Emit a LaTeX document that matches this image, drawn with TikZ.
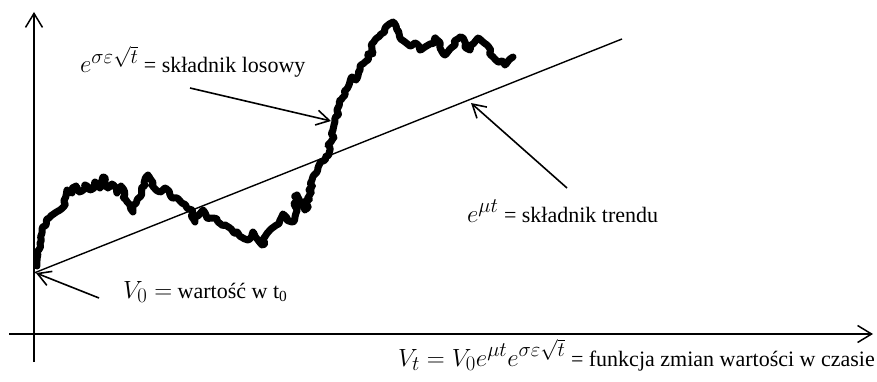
\documentclass[tikz,border=0pt]{standalone}
\usepackage{fontspec}
\setmainfont{Liberation Serif}
\usetikzlibrary{arrows.meta,decorations.pathmorphing}
\newcommand\mth[1]{{\fontsize{28}{32}\selectfont$#1$}}
\tikzset{
  axis/.style={line width=1.5pt,-{Straight Barb[length=14pt,width=17pt,line width=1.5pt]}},
  callout/.style={line width=1.6pt,-{Straight Barb[length=13pt,width=15pt,line width=1.6pt]}},
  trend/.style={line width=1.4pt},
  walk/.style={line width=7pt,line cap=round,line join=round,rounded corners=1pt,
    decorate,decoration={random steps,segment length=3.2pt,amplitude=3.2pt}},
  lbl/.style={inner sep=0pt,anchor=base west,font=\fontsize{22}{26}\selectfont},
}
\begin{document}
\begin{tikzpicture}[x=1pt,y=-1pt]
\useasboundingbox (0,0) rectangle (877,382);
% axes
\coordinate (ybot) at (34,362);
\coordinate (ytop) at (34,12);
\coordinate (xl) at (9,334);
\coordinate (xr) at (873,334);
\draw[axis] (ybot) -- (ytop);
\draw[axis] (xl) -- (xr);
% trend line
\coordinate (V0) at (34,273);
\coordinate (tend) at (622,39);
\draw[trend] (V0) -- (tend);
% random walk
\pgfmathsetseed{11}
\draw[walk] plot coordinates {
(37,266) (37,260) (37,253) (40,243) (42,233) (46,225) (50,217) (55,213) (60,210) (65,205) (66,196) (67,190)
(72,193) (76,186) (80,192) (85,185) (90,190) (95,182) (100,188) (103,177) (108,188) (112,184) (117,193)
(121,186) (126,200) (130,205) (133,212) (137,200) (141,196) (144,183) (148,175) (152,185) (156,190)
(160,192) (165,188) (170,195) (177,198) (182,203) (187,208) (192,210) (195,222) (199,215) (203,210)
(207,218) (212,218) (218,222) (225,225) (230,228) (237,232) (243,238) (248,240) (253,232) (258,240)
(262,245) (266,235) (270,230) (275,226) (280,220) (283,214) (287,220) (292,222) (297,195) (301,203)
(305,210) (309,190) (312,180) (317,172) (320,163) (325,160) (330,150) (332,140) (333,130) (335,118)
(337,110) (341,100) (345,95) (349,85) (352,77) (356,80) (360,70) (365,62) (368,60) (372,48) (375,40)
(380,35) (385,28) (388,25) (393,22) (397,30) (400,38) (405,42) (410,46) (415,43) (420,50) (425,47)
(430,44) (435,38) (440,48) (445,55) (450,49) (455,45) (460,37) (465,47) (470,50) (474,43) (478,38)
(483,42) (487,45) (490,52) (494,58) (498,62) (502,61) (505,65) (509,60) (513,57)};
% labels
\node[lbl] (rand) at (80,73) {\mth{e^{\sigma\varepsilon\sqrt{t}}} = składnik losowy};
\node[lbl] (trd) at (467,222) {\mth{e^{\mu t}} = składnik trendu};
\node[lbl] (v0l) at (123,298) {\mth{V_0 =} wartość w t\textsubscript{0}};
\node[lbl,anchor=base east] (fn) at (875,366) {\mth{V_t = V_0 e^{\mu t}e^{\sigma\varepsilon\sqrt{t}}} = funkcja zmian wartości w czasie};
% callouts
\coordinate (rs) at (190,88);
\coordinate (re) at (331,121);
\coordinate (ts) at (567,188);
\coordinate (te) at (471,103);
\coordinate (vs) at (99,298);
\coordinate (ve) at (36,273);
\draw[callout] (rs) -- (re);
\draw[callout] (ts) -- (te);
\draw[callout] (vs) -- (ve);
\end{tikzpicture}
\end{document}
